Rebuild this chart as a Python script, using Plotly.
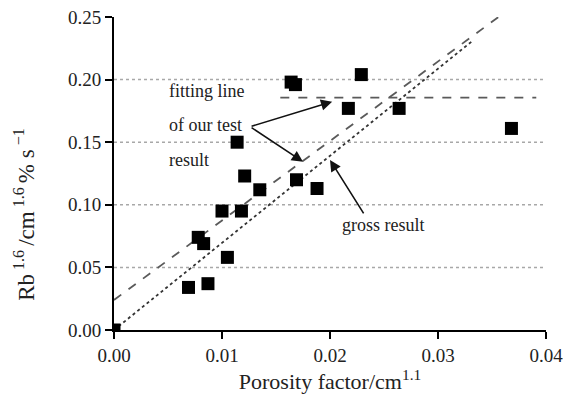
import plotly.graph_objects as go

# Data
porosity = [0.0, 0.0069, 0.0078, 0.0083, 0.0087, 0.0105, 0.0100, 0.0118, 0.0114, 0.0121,
            0.0135, 0.0169, 0.0188, 0.0164, 0.0168, 0.0229, 0.0217, 0.0264, 0.0368]
rb = [0.0, 0.034, 0.074, 0.069, 0.037, 0.058, 0.095, 0.095, 0.150, 0.123,
      0.112, 0.120, 0.113, 0.198, 0.196, 0.204, 0.177, 0.177, 0.161]

fit_x = [0.0, 0.0356]
fit_y = [0.024, 0.25]
gross_x = [0.0, 0.0332]
gross_y = [0.0, 0.231]
plateau_x = [0.0154, 0.0391]
plateau_y = [0.1856, 0.1856]

grid_levels = [0.05, 0.10, 0.15, 0.20]
x_ticks = [0.00, 0.01, 0.02, 0.03, 0.04]
y_ticks = [0.00, 0.05, 0.10, 0.15, 0.20, 0.25]

FONT = "Liberation Serif"
TXT = "#222222"

fig = go.Figure()

for g in grid_levels:
    fig.add_shape(type="line", xref="x", yref="y", x0=0, x1=0.04, y0=g, y1=g,
                  line=dict(color="#a8a8a8", width=1.5, dash="dot"), layer="below")

fig.add_trace(go.Scatter(x=fit_x, y=fit_y, mode="lines",
                         line=dict(color="#5a5a5a", width=1.8, dash="dash"), showlegend=False))
fig.add_trace(go.Scatter(x=gross_x, y=gross_y, mode="lines",
                         line=dict(color="#333333", width=1.8, dash="dot"), showlegend=False))
fig.add_trace(go.Scatter(x=plateau_x, y=plateau_y, mode="lines",
                         line=dict(color="#5a5a5a", width=1.8, dash="dash"), showlegend=False))
fig.add_trace(go.Scatter(x=porosity, y=rb, mode="markers",
                         marker=dict(symbol="square", size=13, color="black"),
                         showlegend=False))

ann_font = dict(family=FONT, size=18, color=TXT)
for txt, yy in [("fitting line", 0.1912), ("of our test", 0.1635), ("result", 0.1355)]:
    fig.add_annotation(x=0.0049, y=yy, xref="x", yref="y", text=txt, showarrow=False,
                       xanchor="left", yanchor="middle", font=ann_font)
fig.add_annotation(x=0.0209, y=0.0839, xref="x", yref="y", text="gross result", showarrow=False,
                   xanchor="left", yanchor="middle", font=ann_font)

arrow_style = dict(showarrow=True, arrowhead=2, arrowsize=1.4, arrowwidth=1.6,
                   arrowcolor="#111111", text="", xref="x", yref="y", axref="x", ayref="y")
fig.add_annotation(x=0.0202, y=0.1824, ax=0.0126, ay=0.1624, **arrow_style)
fig.add_annotation(x=0.0175, y=0.1344, ax=0.0126, ay=0.1624, **arrow_style)
fig.add_annotation(x=0.0200, y=0.1358, ax=0.0232, ay=0.0919, **arrow_style)

fig.add_annotation(x=-0.206, y=0.092, xref="paper", yref="y",
                   text="Rb<sup>\u00a01.6\u00a0</sup>/cm<sup>\u00a01.6\u00a0</sup>%\u00a0s<sup>\u00a0\u22121</sup>",
                   textangle=-90, showarrow=False, xanchor="center", yanchor="middle",
                   font=dict(family=FONT, size=23, color=TXT))

axis_common = dict(showgrid=False, zeroline=False, showline=True, linecolor="black",
                   linewidth=2, ticks="outside", ticklen=7, tickwidth=1.5, tickcolor="black",
                   automargin=False, ticklabeloverflow="allow",
                   tickfont=dict(family=FONT, size=19, color=TXT))

fig.update_xaxes(range=[0, 0.04], tickvals=x_ticks, ticktext=[f"{v:.2f}" for v in x_ticks],
                 title=dict(text="Porosity factor/cm<sup>1.1</sup>", standoff=6,
                            font=dict(family=FONT, size=22, color=TXT)),
                 **axis_common)
fig.update_yaxes(range=[0, 0.25], tickvals=y_ticks, ticktext=[f"{v:.2f}" for v in y_ticks],
                 **axis_common)

# page body has an 8px default margin, so the figure is offset by 8px
fig.update_layout(width=563, height=388, margin=dict(l=106, r=25, t=9, b=66),
                  plot_bgcolor="white", paper_bgcolor="white", showlegend=False)

fig.write_html("out.html")
